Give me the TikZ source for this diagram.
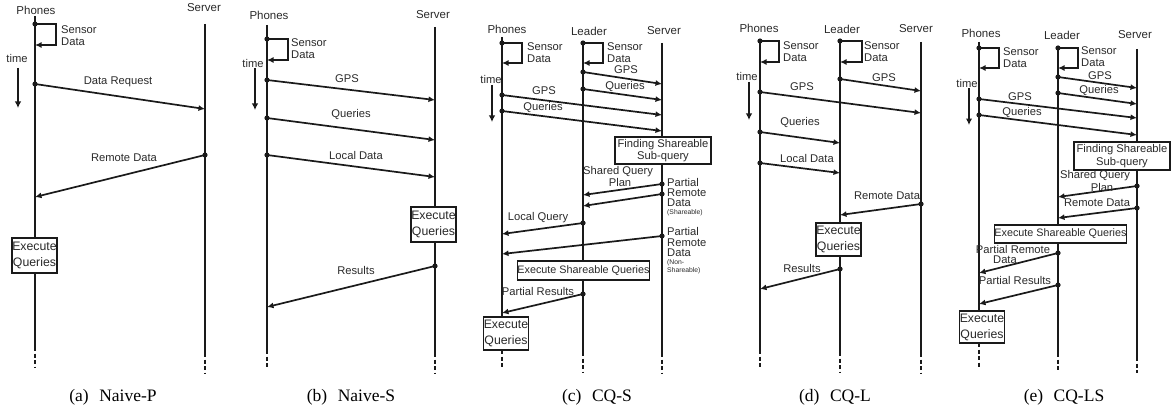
\documentclass[tikz,border=0pt]{standalone}
\usepackage{fontspec}
\setmainfont{Liberation Serif}
\newfontfamily\arialf{Liberation Sans}
\usetikzlibrary{arrows.meta}
\definecolor{lc}{HTML}{1A1A1A}
\definecolor{tc}{HTML}{2A2A2A}
\tikzset{
 life/.style={draw=lc,line width=2pt},
 lifedash/.style={draw=lc,line width=2pt,dash pattern=on 4pt off 2.5pt},
 msgline/.style={draw=lc,line width=1.7pt,-{Latex[length=6.5pt,width=6pt]}},
 timearr/.style={draw=lc,line width=1.8pt,-{Latex[length=6.5pt,width=6.5pt]}},
 hdr/.style={font=\arialf\fontsize{11.5}{12}\selectfont,text=tc,inner sep=0pt},
 lbl/.style={font=\arialf\fontsize{11.2}{12}\selectfont,text=tc,inner sep=0pt},
 lblw/.style={lbl,anchor=west,align=left},
 smalltxt/.style={font=\arialf\fontsize{6.8}{7}\selectfont,text=tc,inner sep=0pt,anchor=west},
 ebox/.style={draw=lc,line width=1.3pt,fill=white,inner sep=0pt,align=center,text=tc,font=\arialf\fontsize{12.3}{16}\selectfont},
 fbox/.style={ebox,font=\arialf\fontsize{11.2}{12.5}\selectfont},
 sbox/.style={ebox,font=\arialf\fontsize{10.8}{12}\selectfont},
 captxt/.style={font=\fontsize{17.5}{19}\selectfont,inner sep=0pt},
}
\newcommand{\lifeline}[5]{%
 \coordinate (#1t) at (#2,#3); \coordinate (#1m) at (#2,#4); \coordinate (#1e) at (#2,#5);
 \draw[life] (#1t) -- (#1m); \draw[lifedash] (#1m) -- (#1e);}
\newcommand{\msgdraw}[3]{%
 \coordinate (#1a) at (#2); \coordinate (#1b) at (#3);
 \fill[lc] (#1a) circle[radius=2.6];
 \draw[msgline] (#1a) -- (#1b);}
\newcommand{\sensorloop}[5]{%
 \coordinate (#1a) at (#2,#3); \coordinate (#1b) at (#2,#5);
 \fill[lc] (#1a) circle[radius=2.6];
 \draw[msgline] (#1a) -- (#4,#3) -- (#4,#5) -- (#1b);}
\newcommand{\timearrow}[4]{%
 \coordinate (#1a) at (#2,#3); \coordinate (#1b) at (#2,#4);
 \draw[timearr] (#1a) -- (#1b);}
\begin{document}
\begin{tikzpicture}[x=1pt,y=-1pt]
\useasboundingbox (0,0) rectangle (1171,412);
% ================= (a) Naive-P =================
\node[hdr] (aPh) at (36,10) {Phones};
\node[hdr] (aSh) at (204,8) {Server};
\lifeline{aP}{35}{16}{347}{368}
\lifeline{aS}{205}{24}{353}{373}
\sensorloop{aL}{35}{24}{56}{45}
\node[lblw] (aLt) at (61,36) {Sensor\\Data};
\node[lbl] (aT) at (17,58) {time};
\timearrow{aTa}{18}{68}{108}
\msgdraw{aM1}{35,84}{205,109}
\node[lbl] (aM1t) at (118,82) {Data Request};
\msgdraw{aM2}{205,155}{35,197}
\node[lbl] (aM2t) at (124,158) {Remote Data};
\node[ebox,minimum width=45pt,minimum height=35pt] (aEx) at (34.5,255.5) {Execute\\Queries};
\node[captxt] (aCap) at (113,397) {(a)\hspace{0.6em}Naive-P};
% ================= (b) Naive-S =================
\node[hdr] (bPh) at (269,15) {Phones};
\node[hdr] (bSh) at (433,15) {Server};
\lifeline{bP}{267}{25}{350}{368}
\lifeline{bS}{435}{27}{353}{373}
\sensorloop{bL}{267}{39}{288}{60}
\node[lblw] (bLt) at (291,49) {Sensor\\Data};
\node[lbl] (bT) at (253,63) {time};
\timearrow{bTa}{255}{68}{110}
\msgdraw{bM1}{267,80}{435,100}
\node[lbl] (bM1t) at (347,79) {GPS};
\msgdraw{bM2}{267,118}{435,140}
\node[lbl] (bM2t) at (351,115) {Queries};
\msgdraw{bM3}{267,155}{435,177}
\node[lbl] (bM3t) at (356,155) {Local Data};
\node[ebox,minimum width=45pt,minimum height=35pt] (bEx) at (433.5,224.5) {Execute\\Queries};
\msgdraw{bM4}{435,266}{267,307}
\node[lbl] (bM4t) at (356,270) {Results};
\node[captxt] (bCap) at (351,397) {(b)\hspace{0.6em}Naive-S};
% ================= (c) CQ-S =================
\node[hdr] (cPh) at (507,29) {Phones};
\node[hdr] (cLh) at (589,31) {Leader};
\node[hdr] (cSh) at (664,31) {Server};
\lifeline{cP}{502}{37}{350}{368}
\lifeline{cL}{583}{42}{352}{372}
\lifeline{cS}{662}{43}{353}{373}
\sensorloop{cL1}{502}{43}{522}{63}
\node[lblw] (cL1t) at (527,53) {Sensor\\Data};
\sensorloop{cL2}{583}{43}{603}{63}
\node[lblw] (cL2t) at (607,53) {Sensor\\Data};
\node[lbl] (cT) at (491,79) {time};
\timearrow{cTa}{492}{85}{122}
\msgdraw{cM1}{583,72}{662,84}
\node[lbl] (cM1t) at (626,70) {GPS};
\msgdraw{cM2}{583,89}{662,100}
\node[lbl] (cM2t) at (625,87) {Queries};
\msgdraw{cM3}{502,95}{662,115}
\node[lbl] (cM3t) at (544,91) {GPS};
\msgdraw{cM4}{502,111}{662,131}
\node[lbl] (cM4t) at (543,108) {Queries};
\node[fbox,minimum width=96pt,minimum height=27pt] (cFind) at (663,150.5) {Finding Shareable\\Sub-query};
\msgdraw{cM5}{662,184}{583,195}
\node[lbl] (cM5t) at (618,172) {Shared Query};
\node[lbl] (cM5u) at (620,182.5) {Plan};
\msgdraw{cM6}{662,194}{583,206}
\node[lblw] (cM6t1) at (667,182) {Partial};
\node[lblw] (cM6t2) at (667,193) {Remote};
\node[lblw] (cM6t3) at (667,203) {Data};
\node[smalltxt] (cM6t4) at (667,213) {(Shareable)};
\msgdraw{cM7}{583,223}{502,234}
\node[lbl] (cM7t) at (538,218) {Local Query};
\msgdraw{cM8}{662,236}{502,254}
\node[lblw] (cM8t1) at (667,231) {Partial};
\node[lblw] (cM8t2) at (667,243) {Remote};
\node[lblw] (cM8t3) at (667,253) {Data};
\node[smalltxt] (cM8t4) at (667,263) {(Non-};
\node[smalltxt] (cM8t5) at (667,271) {Shareable)};
\node[sbox,minimum width=129pt,minimum height=19pt] (cShare) at (583.5,270.5) {Execute Shareable Queries};
\msgdraw{cM9}{583,294}{502,313}
\node[lbl] (cM9t) at (538,291) {Partial Results};
\node[ebox,minimum width=44pt,minimum height=33pt] (cEx) at (506,333.5) {Execute\\Queries};
\node[captxt] (cCap) at (597,397) {(c)\hspace{0.6em}CQ-S};
% ================= (d) CQ-L =================
\node[hdr] (dPh) at (759,28) {Phones};
\node[hdr] (dLh) at (842,29) {Leader};
\node[hdr] (dSh) at (916,29) {Server};
\lifeline{dP}{760}{39}{350}{368}
\lifeline{dL}{840}{40}{352}{372}
\lifeline{dS}{921}{42}{353}{373}
\sensorloop{dL1}{760}{41}{779}{62}
\node[lblw] (dL1t) at (783,52) {Sensor\\Data};
\sensorloop{dL2}{840}{41}{862}{62}
\node[lblw] (dL2t) at (864,52) {Sensor\\Data};
\node[lbl] (dT) at (747,76) {time};
\timearrow{dTa}{749}{82}{120}
\msgdraw{dM1}{840,79}{921,91}
\node[lbl] (dM1t) at (884,78) {GPS};
\msgdraw{dM2}{760,92}{921,113}
\node[lbl] (dM2t) at (802,87) {GPS};
\msgdraw{dM3}{760,132}{840,143}
\node[lbl] (dM3t) at (800,123) {Queries};
\msgdraw{dM4}{760,163}{840,173}
\node[lbl] (dM4t) at (807,158) {Local Data};
\msgdraw{dM5}{921,204}{840,215}
\node[lbl] (dM5t) at (887,196) {Remote Data};
\node[ebox,minimum width=45pt,minimum height=33pt] (dEx) at (838.5,239.5) {Execute\\Queries};
\msgdraw{dM6}{840,269}{760,289}
\node[lbl] (dM6t) at (802,268) {Results};
\node[captxt] (dCap) at (835,397) {(d)\hspace{0.6em}CQ-L};
% ================= (e) CQ-LS =================
\node[hdr] (ePh) at (981,33) {Phones};
\node[hdr] (eLh) at (1062,35) {Leader};
\node[hdr] (eSh) at (1135,35) {Server};
\lifeline{eP}{979}{42}{343}{368}
\lifeline{eL}{1058}{47}{353}{372}
\lifeline{eS}{1137}{49}{357}{373}
\sensorloop{eL1}{979}{48}{999}{68}
\node[lblw] (eL1t) at (1003,58) {Sensor\\Data};
\sensorloop{eL2}{1058}{48}{1078}{68}
\node[lblw] (eL2t) at (1081,57) {Sensor\\Data};
\node[lbl] (eT) at (967,83) {time};
\timearrow{eTa}{969}{88}{125}
\msgdraw{eM1}{1058,77}{1137,88}
\node[lbl] (eM1t) at (1100,76) {GPS};
\msgdraw{eM2}{1058,93}{1137,104}
\node[lbl] (eM2t) at (1099,91) {Queries};
\msgdraw{eM3}{979,99}{1137,118}
\node[lbl] (eM3t) at (1020,97) {GPS};
\msgdraw{eM4}{979,115}{1137,135}
\node[lbl] (eM4t) at (1022,113) {Queries};
\node[fbox,minimum width=96pt,minimum height=28pt] (eFind) at (1122,156) {Finding Shareable\\Sub-query};
\msgdraw{eM5}{1137,186}{1058,197}
\node[lbl] (eM5t) at (1095,176) {Shared Query};
\node[lbl] (eM5u) at (1102,187) {Plan};
\msgdraw{eM6}{1137,208}{1058,218}
\node[lbl] (eM6t) at (1097,203) {Remote Data};
\node[sbox,minimum width=127pt,minimum height=18pt] (eShare) at (1060.5,234) {Execute Shareable Queries};
\msgdraw{eM7}{1058,253}{979,273}
\node[lbl] (eM7t) at (1013,249) {Partial Remote};
\node[lbl] (eM7u) at (1005,260) {Data};
\msgdraw{eM8}{1058,285}{979,304}
\node[lbl] (eM8t) at (1015,280) {Partial Results};
\node[ebox,minimum width=42pt,minimum height=32pt] (eEx) at (982,327) {Execute\\Queries};
\node[captxt] (eCap) at (1064,397) {(e)\hspace{0.6em}CQ-LS};
\end{tikzpicture}
\end{document}
